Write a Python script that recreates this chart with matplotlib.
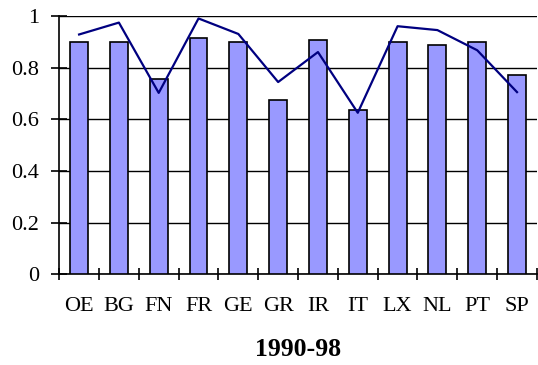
import matplotlib
matplotlib.use("Agg")
import matplotlib.pyplot as plt
import numpy as np

countries = ["OE", "BG", "FN", "FR", "GE", "GR", "IR", "IT", "LX", "NL", "PT", "SP"]
bars = [0.90, 0.90, 0.756, 0.913, 0.90, 0.674, 0.905, 0.634, 0.897, 0.889, 0.897, 0.772]
line = [0.928, 0.974, 0.702, 0.99, 0.930, 0.744, 0.860, 0.625, 0.960, 0.945, 0.867, 0.705]

plt.rcParams['font.family'] = ['Liberation Serif', 'DejaVu Serif']

fig = plt.figure(figsize=(5.38, 3.65), dpi=100)
ax = fig.add_axes([0.110, 0.2485, 0.888, 0.708])

x = np.arange(len(countries))
ax.bar(x, bars, width=0.45, color='#9999FF', edgecolor='black', linewidth=1.2, zorder=3)
ax.plot(x, line, color='#000080', linewidth=1.6, zorder=4)

ax.set_xlim(-0.5, len(countries) - 0.5)
ax.set_ylim(0, 1)
ax.set_yticks([0, 0.2, 0.4, 0.6, 0.8, 1])
ax.set_yticklabels(["0", "0.2", "0.4", "0.6", "0.8", "1"])
ax.yaxis.grid(True, color='black', linewidth=1.0, zorder=0)
ax.set_axisbelow(True)

ax.set_xticks(np.arange(len(countries) + 1) - 0.5)
ax.set_xticklabels([])
ax.set_xticks(x, minor=True)
ax.set_xticklabels(countries, minor=True)
ax.tick_params(axis='x', which='major', direction='inout', length=9, width=1.2)
ax.tick_params(axis='x', which='minor', length=0, pad=16, labelsize=16)
ax.tick_params(axis='y', direction='inout', length=11, width=1.2, pad=9, labelsize=16)

for s in ['right', 'top']:
    ax.spines[s].set_visible(False)
ax.spines['left'].set_linewidth(1.2)
ax.spines['bottom'].set_linewidth(1.2)

ax.set_xlabel("1990-98", fontsize=18.5, fontweight='bold', labelpad=16)

fig.savefig("out.png", dpi=100)
